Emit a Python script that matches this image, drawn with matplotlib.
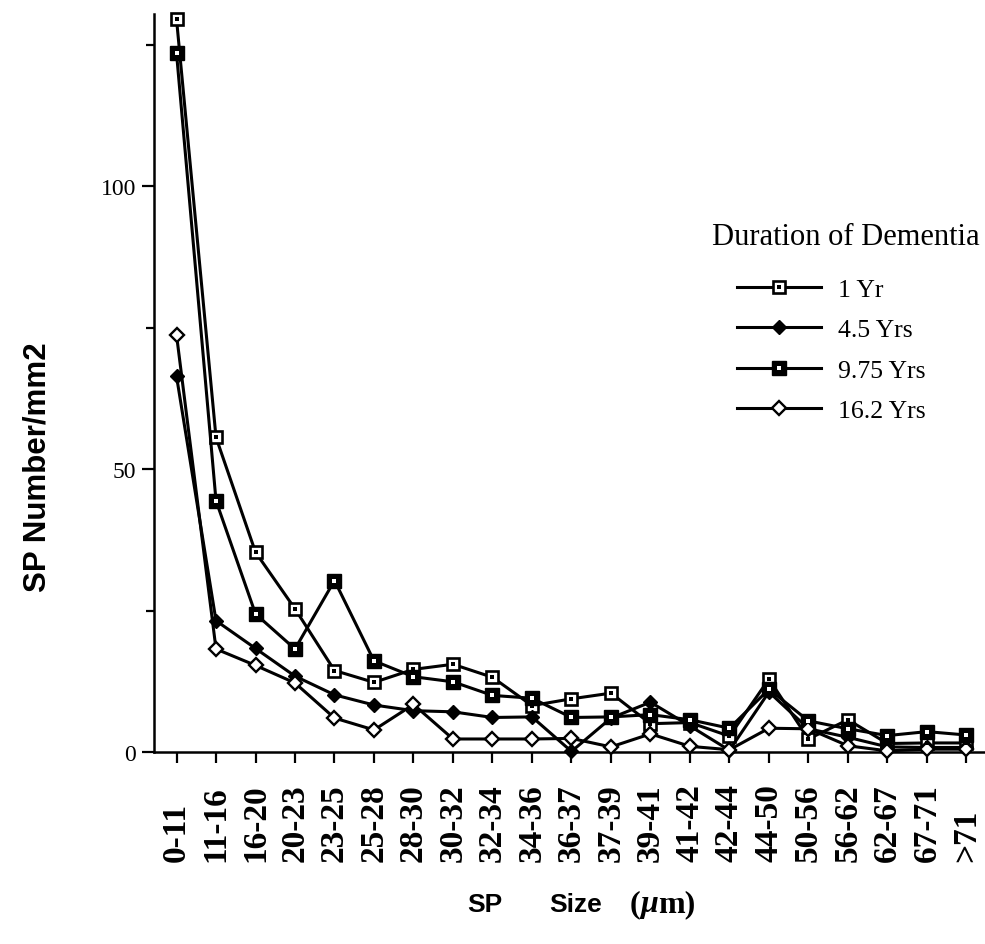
import matplotlib
matplotlib.use("Agg")
import matplotlib.pyplot as plt
from matplotlib.transforms import blended_transform_factory
from matplotlib.ticker import FixedLocator

# Senile plaque size classes (micrometres)
size_bins = ["0-11", "11-16", "16-20", "20-23", "23-25", "25-28", "28-30",
             "30-32", "32-34", "34-36", "36-37", "37-39", "39-41", "41-42",
             "42-44", "44-50", "50-56", "56-62", "62-67", "67-71", ">71"]

# SP number per mm2 for each duration of dementia
yr_1 = [129.5, 55.6, 35.3, 25.3, 14.4, 12.3, 14.6, 15.5, 13.2, 8.2, 9.4,
        10.4, 5.0, 5.2, 2.8, 12.9, 2.3, 5.7, 1.5, 1.6, 1.6]
yr_4_5 = [66.4, 23.2, 18.3, 13.4, 10.1, 8.3, 7.3, 7.1, 6.1, 6.2, 0.1,
          6.0, 8.8, 4.6, 0.3, 10.6, 4.1, 2.6, 0.9, 0.8, 0.8]
yr_9_75 = [123.5, 44.4, 24.4, 18.2, 30.3, 16.1, 13.3, 12.4, 10.0, 9.5, 6.1,
           6.2, 6.6, 5.7, 4.2, 11.1, 5.5, 4.1, 2.9, 3.6, 3.0]
yr_16_2 = [73.7, 18.2, 15.3, 12.2, 6.0, 3.9, 8.4, 2.3, 2.3, 2.3, 2.4,
           0.9, 3.2, 1.0, 0.4, 4.2, 4.1, 1.1, 0.2, 0.5, 0.5]

series_labels = ["1 Yr", "4.5 Yrs", "9.75 Yrs", "16.2 Yrs"]
y_major = [0, 50, 100]
y_minor = [25, 75, 125]

SERIF = "Liberation Serif"
SANS = "Liberation Sans"

W, H = 985, 945
fig = plt.figure(figsize=(W / 100, H / 100), dpi=100)
fig.patch.set_facecolor("white")

# axes box in pixel terms: left spine at x=154, zero line at y=753, top at y=15
ax = fig.add_axes([154 / W, 1 - 753 / H, (W - 154) / W, (753 - 15) / H])
ax.set_xlim(-0.57, 20.47)
ax.set_ylim(0, 130.4)

x = list(range(len(size_bins)))
LW = 2.2

styles = [
    dict(marker="s", ms=8.5, mfc="white", mec="black", mew=1.9),
    dict(marker="D", ms=7.5, mfc="black", mec="black", mew=1.0),
    dict(marker="s", ms=9.5, mfc="black", mec="black", mew=1.0),
    dict(marker="D", ms=6.8, mfc="white", mec="black", mew=1.7),
]
dots = ["black", None, "white", None]
series = [yr_1, yr_4_5, yr_9_75, yr_16_2]

handles = []
for vals, st, dot in zip(series, styles, dots):
    line, = ax.plot(x, vals, color="black", lw=LW, zorder=3, clip_on=False, **st)
    parts = [line]
    if dot is not None:
        d, = ax.plot(x, vals, ls="none", marker="s", ms=2.2, mfc=dot, mec=dot,
                     mew=0, zorder=4, clip_on=False)
        parts.append(d)
    handles.append(tuple(parts))

# spines and ticks
for side in ("top", "right"):
    ax.spines[side].set_visible(False)
for side in ("left", "bottom"):
    ax.spines[side].set_linewidth(1.8)

ax.yaxis.set_major_locator(FixedLocator(y_major))
ax.yaxis.set_minor_locator(FixedLocator(y_minor))
ax.tick_params(axis="y", which="major", direction="out", length=9, width=1.6,
               pad=4, labelsize=17)
ax.tick_params(axis="y", which="minor", direction="out", length=6, width=1.6)
for lab in ax.get_yticklabels():
    lab.set_fontfamily(SERIF)

ax.set_xticks(x)
ax.set_xticklabels([])
ax.tick_params(axis="x", which="major", direction="out", length=8, width=1.6)

# category labels, rotated and aligned at their bottom ends
tr = blended_transform_factory(ax.transData, ax.transAxes)
y_lab = (H - 862 - (H - 753)) / (753 - 15)
for xi, lab in zip(x, size_bins):
    ax.text(xi, y_lab, lab, rotation=90, ha="center", va="bottom",
            transform=tr, fontsize=24, fontweight="bold", family=SERIF,
            clip_on=False)

# axis titles
fig.text(38 / W, 1 - 467 / H, "SP Number/mm2", rotation=90, ha="center",
         va="center", fontsize=22.5, fontweight="bold", family=SANS)

yt = 1 - 905 / H
fig.text(467 / W, yt, "SP", ha="left", va="center", fontsize=19,
         fontweight="bold", family=SANS)
fig.text(549 / W, yt, "Size", ha="left", va="center", fontsize=19,
         fontweight="bold", family=SANS)
fig.canvas.draw()
r = fig.canvas.get_renderer()
t1 = fig.text(630 / W, yt, "(", ha="left", va="center", fontsize=23,
              fontweight="bold", family=SERIF)
x1 = t1.get_window_extent(r).x1
t2 = fig.text(x1 / W, yt, "\u03bc", ha="left", va="center", fontsize=23,
              fontweight="bold", style="italic", family=SERIF)
x2 = t2.get_window_extent(r).x1
fig.text(x2 / W, yt, "m)", ha="left", va="center", fontsize=23,
         fontweight="bold", family=SERIF)

# legend
fig.text(712 / W, 1 - 238 / H, "Duration of Dementia", ha="left", va="center",
         fontsize=22, family=SERIF)
ax.legend(handles, series_labels, loc="upper left",
          bbox_to_anchor=(737 / W, 1 - 279 / H), bbox_transform=fig.transFigure,
          frameon=False, prop={"family": SERIF, "size": 18.5},
          handlelength=3.25, handletextpad=0.7, labelspacing=0.68,
          borderpad=0, borderaxespad=0)

fig.savefig("out.png", dpi=100, facecolor="white")
